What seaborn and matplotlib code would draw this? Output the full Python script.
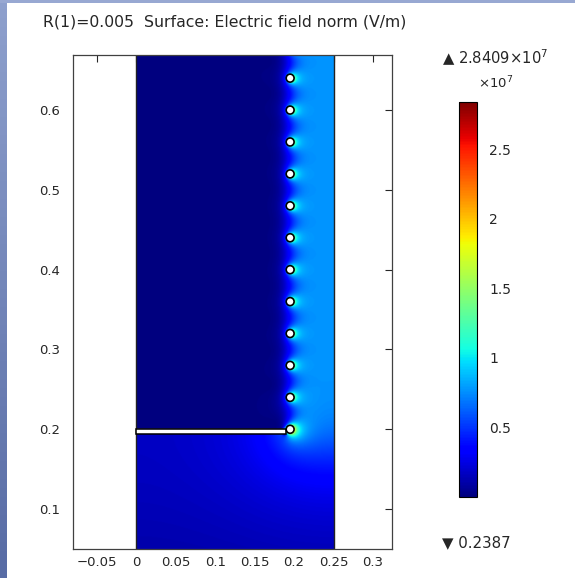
import numpy as np
import matplotlib
matplotlib.use("Agg")
import matplotlib.pyplot as plt
import matplotlib.patches as mpatches
from matplotlib.ticker import FuncFormatter
import seaborn as sns

# geometry (m)
WALL_X = 0.25          # grounded outer wall (right edge of the domain)
WIRE_X = 0.195         # column of wires
WIRE_R = 0.005         # R(1)
wire_y = [0.20, 0.24, 0.28, 0.32, 0.36, 0.40, 0.44, 0.48, 0.52, 0.56, 0.60, 0.64]
# the wire column carries on above the window
wire_y_hidden = [0.68, 0.72, 0.76, 0.80, 0.84, 0.88, 0.92, 0.96, 1.00]
PLATE_X1 = 0.19
PLATE_Y = 0.1975
PLATE_T = 0.006

# colour range from the legend
e_min = 0.2387
e_max = 2.8409e7
e_wall = 0.77e7        # field at the outer wall
cbar_ticks = [0.5e7, 1.0e7, 1.5e7, 2.0e7, 2.5e7]

x_ticks = [-0.05, 0, 0.05, 0.1, 0.15, 0.2, 0.25, 0.3]
y_ticks = [0.1, 0.2, 0.3, 0.4, 0.5, 0.6]
xlim = (-0.08, 0.324)
ylim = (0.05, 0.669)

# --- electrostatics: line charges inside the conductors -----------------
# axis x=0 is a mirror, wall x=WALL_X is grounded -> images repeat every 4*WALL_X
PERIOD = 4 * WALL_X
k = np.pi / PERIOD


def image_set(z0):
    return [(z0, 1.0), (-np.conj(z0), 1.0),
            (2 * WALL_X - np.conj(z0), -1.0), (2 * WALL_X + z0, -1.0)]


all_wires = np.array(wire_y + wire_y_hidden)
n_plate = 48
plate_x = (np.arange(n_plate) + 0.5) * PLATE_X1 / n_plate
src = np.concatenate([WIRE_X + 1j * all_wires, plate_x + 1j * PLATE_Y])
col = np.concatenate([WIRE_X + WIRE_R + 1j * all_wires,
                      plate_x + 1j * (PLATE_Y + PLATE_T / 2)])

A = np.zeros((len(col), len(src)))
for zi, sg in image_set(src[None, :]):
    A -= sg * np.log(np.abs(np.sin(k * (col[:, None] - zi))))
q = np.linalg.solve(A, np.ones(len(col)))


def field(z):
    e = np.zeros(z.shape, dtype=complex)
    for j in range(len(src)):
        for zi, sg in image_set(src[j]):
            e += sg * q[j] * k / np.tan(k * (z - zi))
    return np.abs(e)


gx = np.linspace(0, WALL_X, 300)
gy = np.linspace(ylim[0], ylim[1], 740)
X, Y = np.meshgrid(gx, gy)
Z = X + 1j * Y
E = field(Z)
E *= e_wall / field(np.array([WALL_X - 1e-4 + 0.42j]))[0]

mask = (X < PLATE_X1) & (np.abs(Y - PLATE_Y) < PLATE_T / 2)
for yw in all_wires:
    mask |= np.abs(Z - (WIRE_X + 1j * yw)) < WIRE_R
E = np.ma.masked_array(E, mask)

# --- figure --------------------------------------------------------------
sns.set_theme(context="paper", style="white")
plt.rcParams["font.family"] = ["DejaVu Sans"]
plt.rcParams["text.color"] = "#262626"

fig = plt.figure(figsize=(5.75, 5.78), dpi=100)

# window frame strips
strip = fig.add_axes([0, 0, 7 / 575, 1])
strip.imshow(np.linspace([142, 160, 205], [88, 108, 165], 64)[:, None, :] / 255,
             aspect="auto", extent=(0, 1, 0, 1))
strip.set_axis_off()
top = fig.add_axes([0, 1 - 3 / 578, 1, 3 / 578])
top.set_facecolor("#98a8d2")
top.set_xticks([]); top.set_yticks([])
for s in top.spines.values():
    s.set_visible(False)

ax = fig.add_axes([73 / 575, 1 - 549 / 578, 319 / 575, 494 / 578])
cmap = matplotlib.colormaps["jet"].copy()
cmap.set_bad("white")
im = ax.imshow(E, extent=(0, WALL_X, ylim[0], ylim[1]), origin="lower",
               cmap=cmap, vmin=e_min, vmax=e_max, aspect="auto",
               interpolation="bilinear", zorder=1)

ax.plot([0, 0], ylim, color="#222222", lw=1, zorder=2)
ax.plot([WALL_X, WALL_X], ylim, color="#222222", lw=1, zorder=2)
ax.add_patch(mpatches.Rectangle((0, PLATE_Y - PLATE_T / 2), PLATE_X1, PLATE_T,
                                fc="white", ec="black", lw=1.1, zorder=3))
for yw in wire_y:
    ax.add_patch(mpatches.Circle((WIRE_X, yw), WIRE_R, fc="white", ec="black",
                                 lw=1.2, zorder=4))

ax.set_xlim(xlim)
ax.set_ylim(ylim)
ax.set_xticks(x_ticks)
ax.set_yticks(y_ticks)
ax.xaxis.set_major_formatter(FuncFormatter(lambda v, _: f"{v:g}".replace("-", "\u2212")))
ax.yaxis.set_major_formatter(FuncFormatter(lambda v, _: f"{v:g}"))
ax.tick_params(direction="in", length=5, width=0.8, top=True, right=True,
               labelsize=9.5, colors="#262626")
ax.tick_params(axis="y", pad=9)
ax.tick_params(axis="x", pad=5)
for s in ax.spines.values():
    s.set_color("#404040")
    s.set_linewidth(0.9)

fig.text(43 / 575, 1 - 22 / 578,
         "R(1)=0.005  Surface: Electric field norm (V/m)",
         fontsize=11.3, va="center", ha="left")

cax = fig.add_axes([459 / 575, 1 - 497 / 578, 18 / 575, 395 / 578])
cb = fig.colorbar(im, cax=cax, ticks=cbar_ticks,
                  format=FuncFormatter(lambda v, _: f"{v / 1e7:g}"))
cb.outline.set_edgecolor("black")
cb.outline.set_linewidth(0.8)
cax.tick_params(direction="in", length=3, width=0.8, left=True, right=True,
                labelsize=10, colors="#262626", pad=9)
cax.yaxis.set_tick_params(color="black")

fig.text(442 / 575, 1 - 58 / 578, "\u25b2 2.8409\u00d710$^{7}$", fontsize=10.6,
         va="center", ha="left")
fig.text(478 / 575, 1 - 83 / 578, "\u00d710$^{7}$", fontsize=9.5,
         va="center", ha="left")
fig.text(442 / 575, 1 - 543 / 578, "\u25bc 0.2387", fontsize=10.8,
         va="center", ha="left")

fig.savefig("out.png", dpi=100)
